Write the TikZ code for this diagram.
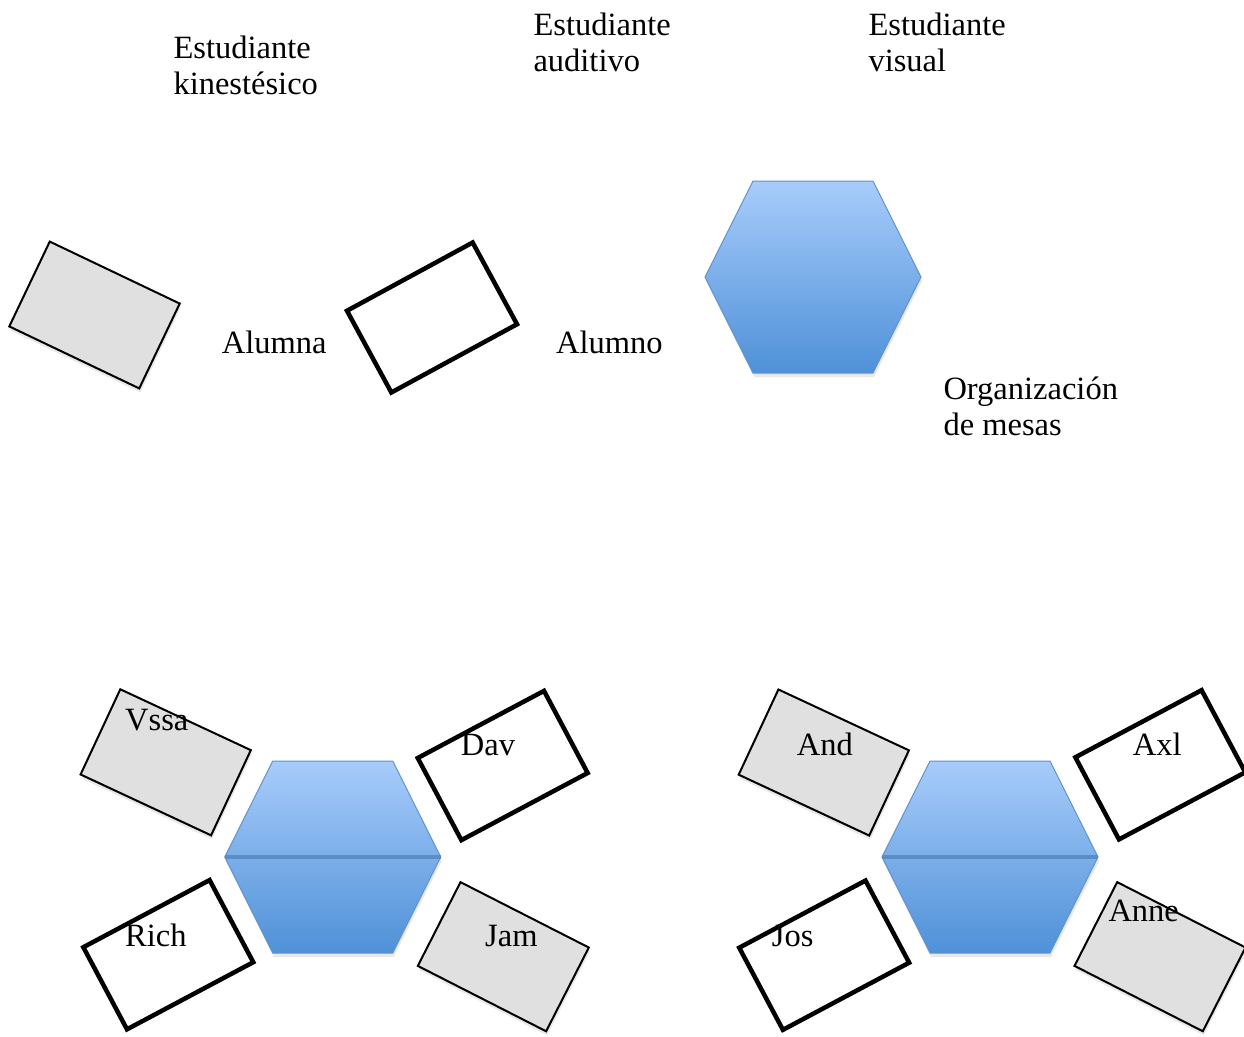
\documentclass[tikz,border=0pt]{standalone}
\usepackage{fontspec}
\setmainfont{Liberation Serif}
\usetikzlibrary{shadows}
\definecolor{hexTop}{RGB}{168,204,251}
\definecolor{hexBot}{RGB}{79,145,216}
\definecolor{hexLine}{RGB}{98,146,204}
\definecolor{hexBand}{RGB}{88,136,190}
\definecolor{deskGray}{RGB}{224,224,224}
\newcommand\hexagonat[3]{%
  \path[hexa] (#2-60,#3-96) -- (#2+60,#3-96) -- (#2+108,#3) -- (#2+60,#3+96) -- (#2-60,#3+96) -- (#2-108,#3) -- cycle;
  \coordinate (#1) at (#2,#3);
  \coordinate (#1-w) at (#2-108,#3);
  \coordinate (#1-e) at (#2+108,#3);
}
\begin{document}
\begin{tikzpicture}[x=1pt,y=-1pt,
  deskgray/.style={draw=black, line width=2pt, fill=deskGray, minimum width=144pt, minimum height=94pt, inner sep=0pt,
    drop shadow={opacity=0.18, shadow xshift=1pt, shadow yshift=-4pt}},
  deskwhite/.style={draw=black, line width=4.5pt, fill=white, minimum width=143pt, minimum height=93pt, inner sep=0pt},
  lbl/.style={anchor=base west, inner sep=0pt, font=\fontsize{32.5}{36}\selectfont, align=left},
  hexa/.style={draw=hexLine, line width=1pt, top color=hexTop, bottom color=hexBot,
    drop shadow={opacity=0.18, shadow xshift=1pt, shadow yshift=-4pt}},
  band/.style={draw=hexBand, line width=4pt, opacity=0.85}]
\useasboundingbox (0,0) rectangle (1244,1036);

% top row
\node[deskgray, rotate=-25.5] (kin) at (94.5,315) {};
\node[deskwhite, rotate=28.5] (aud) at (432,317.5) {};
\hexagonat{vis}{813}{277}

% multi-line labels: base = baseline of the last line
\node[lbl] (tkin) at (173.3,94.5) {Estudiante\\kinestésico};
\node[lbl] (taud) at (533.3,71.5) {Estudiante\\auditivo};
\node[lbl] (tvis) at (868.3,71.5) {Estudiante\\visual};
\node[lbl] (talumna) at (221.7,353.3) {Alumna};
\node[lbl] (talumno) at (556,353.3) {Alumno};
\node[lbl] (torg) at (943.3,435) {Organización\\de mesas};

% bottom-left group
\node[deskgray, rotate=-25] (vssa) at (165.7,762.3) {};
\node[deskwhite, rotate=28] (dav) at (502.7,765.5) {};
\node[deskwhite, rotate=28] (rich) at (168.3,954.7) {};
\node[deskgray, rotate=-27] (jam) at (503.3,956.7) {};
\hexagonat{hexL}{332.7}{857}
\draw[band] (hexL-w) -- (hexL-e);

\node[lbl] (lvssa) at (125,730) {Vssa};
\node[lbl] (ldav) at (460.7,755) {Dav};
\node[lbl] (lrich) at (125,946.7) {Rich};
\node[lbl] (ljam) at (485,946.7) {Jam};

% bottom-right group
\node[deskgray, rotate=-25] (and) at (823.8,762.5) {};
\node[deskwhite, rotate=28] (axl) at (1160.3,764.8) {};
\node[deskwhite, rotate=28] (jos) at (824.2,955.2) {};
\node[deskgray, rotate=-27] (anne) at (1160,956.7) {};
\hexagonat{hexR}{990}{857}
\draw[band] (hexR-w) -- (hexR-e);

\node[lbl] (land) at (796.7,755) {And};
\node[lbl] (laxl) at (1132.7,755) {Axl};
\node[lbl] (ljos) at (771.7,946.7) {Jos};
\node[lbl] (lanne) at (1108.3,921.7) {Anne};
\end{tikzpicture}
\end{document}
